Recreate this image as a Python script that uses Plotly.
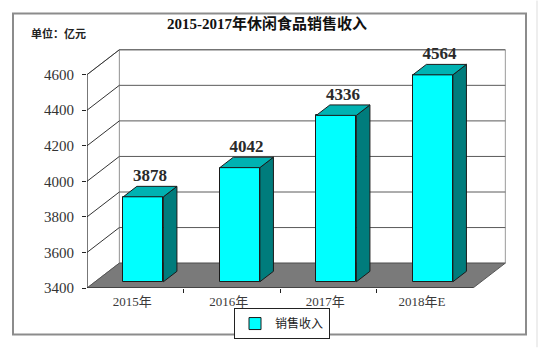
import plotly.graph_objects as go

# ---- data ----
categories = ["2015年", "2016年", "2017年", "2018年E"]
values = [3878, 4042, 4336, 4564]
y_ticks = [3400, 3600, 3800, 4000, 4200, 4400, 4600]
series_name = "销售收入"
title_text = "2015-2017年休闲食品销售收入"
unit_text = "单位：亿元"

# ---- 3D projection constants (style) ----
YMIN, YMAX = 3400, 4600
NCAT = len(categories)
DX, DY = 0.335, 140.0        # depth offset of the back wall (x units, y units)
D1, DD = 0.25, 0.42          # bar front depth, bar depth (fraction of wall depth)
BW = 0.415                   # bar width
W, H = 540, 351
ML, MR, MT, MB = 87, 33, 49, 60
PW, PH = W - ML - MR, H - MT - MB

FONT = "Liberation Serif, 'Noto Sans CJK SC', serif"

fig = go.Figure()

# front faces via bar trace
xc = [i + 0.5 + D1 * DX for i in range(NCAT)]
base = YMIN + D1 * DY
fig.add_trace(go.Bar(
    x=xc, y=[v - YMIN for v in values], base=base, width=BW,
    marker=dict(color="#00FFFF", line=dict(color="#1a1a1a", width=1)),
    name=series_name, showlegend=True, hoverinfo="skip",
))

ddx, ddy = DD * DX, DD * DY
for i, v in enumerate(values):
    xl, xr = xc[i] - BW / 2, xc[i] + BW / 2
    top = v + D1 * DY
    # side face
    fig.add_trace(go.Scatter(
        x=[xr, xr, xr + ddx, xr + ddx, xr], y=[base, top, top + ddy, base + ddy, base],
        mode="lines", fill="toself", fillcolor="#007c7c",
        line=dict(color="#1a1a1a", width=1), showlegend=False, hoverinfo="skip"))
    # top face
    fig.add_trace(go.Scatter(
        x=[xl, xr, xr + ddx, xl + ddx, xl], y=[top, top, top + ddy, top + ddy, top],
        mode="lines", fill="toself", fillcolor="#00b2b2",
        line=dict(color="#1a1a1a", width=1), showlegend=False, hoverinfo="skip"))

# value labels
fig.add_trace(go.Scatter(
    x=[c + ddx / 2 for c in xc], y=[v + D1 * DY + ddy + 5 for v in values],
    mode="text", text=[f"<b>{v}</b>" for v in values], textposition="top center",
    textfont=dict(family=FONT, size=17, color="#2a2a2a"),
    cliponaxis=False, showlegend=False, hoverinfo="skip"))

shapes = []
# back wall
shapes.append(dict(type="rect", xref="x", yref="y", x0=DX, x1=NCAT + DX,
                   y0=YMIN + DY, y1=YMAX + DY, fillcolor="white",
                   line=dict(color="#9a9a9a", width=1), layer="below"))
# left wall
shapes.append(dict(type="path", xref="x", yref="y",
                   path=f"M 0,{YMIN} L {DX},{YMIN+DY} L {DX},{YMAX+DY} L 0,{YMAX} Z",
                   fillcolor="white", line=dict(color="#9a9a9a", width=1), layer="below"))
for t in y_ticks[1:]:
    shapes.append(dict(type="line", xref="x", yref="y", x0=DX, x1=NCAT + DX,
                       y0=t + DY, y1=t + DY, line=dict(color="#5a5a5a", width=1), layer="below"))
for t in y_ticks[1:]:
    shapes.append(dict(type="line", xref="x", yref="y", x0=0, x1=DX,
                       y0=t, y1=t + DY, line=dict(color="#333333", width=1), layer="below"))
# floor
shapes.append(dict(type="path", xref="x", yref="y",
                   path=f"M 0,{YMIN} L {NCAT},{YMIN} L {NCAT+DX},{YMIN+DY} L {DX},{YMIN+DY} Z",
                   fillcolor="#7a7a7a", line=dict(color="#555555", width=1), layer="below"))
# front axis lines
shapes.append(dict(type="line", xref="x", yref="y", x0=0, x1=0, y0=YMIN, y1=YMAX,
                   line=dict(color="#222222", width=1), layer="below"))
shapes.append(dict(type="line", xref="x", yref="y", x0=0, x1=NCAT, y0=YMIN, y1=YMIN,
                   line=dict(color="#222222", width=1), layer="below"))

# outer frame (paper coords from pixel positions)
def px(xp):
    return (xp - ML) / PW
def py(yp):
    return (H - MB - yp) / PH
shapes.append(dict(type="rect", xref="paper", yref="paper",
                   x0=px(13), x1=px(526), y0=py(338), y1=py(13),
                   line=dict(color="#8c8c8c", width=2), fillcolor="rgba(0,0,0,0)"))
shapes.append(dict(type="line", xref="paper", yref="paper",
                   x0=px(537), x1=px(537), y0=py(0), y1=py(351),
                   line=dict(color="#dddddd", width=1)))

fig.update_layout(
    width=W, height=H, autosize=False,
    margin=dict(l=ML, r=MR, t=MT, b=MB),
    paper_bgcolor="white", plot_bgcolor="rgba(0,0,0,0)",
    shapes=shapes,
    showlegend=True,
    title=dict(text=f"<b>{title_text}</b>", x=267 / W, y=1 - 24 / H,
               xref="container", yref="container", xanchor="center", yanchor="middle",
               font=dict(family=FONT, size=15, color="#111111")),
    annotations=[dict(text=f"<b>{unit_text}</b>", xref="paper", yref="paper",
                      x=px(58), y=py(33), xanchor="center", yanchor="middle",
                      showarrow=False, font=dict(family=FONT, size=11, color="#222222"))],
    legend=dict(x=px(282), y=py(327), xanchor="center", yanchor="middle",
                bordercolor="#222222", borderwidth=1, bgcolor="white",
                font=dict(family=FONT, size=12, color="#222222"),
                itemwidth=30, tracegroupgap=0),
    xaxis=dict(range=[0, PW / ((473 - ML) / NCAT)], showgrid=False, zeroline=False,
               showline=False, tickmode="array",
               tickvals=[i + 0.47 for i in range(NCAT)], ticktext=categories,
               ticks="", ticklabelstandoff=4,
               tickfont=dict(family=FONT, size=13, color="#3a3a3a"),
               minor=dict(tickmode="array", tickvals=list(range(1, NCAT)),
                          ticks="outside", ticklen=4, tickcolor="#222222", showgrid=False),
               fixedrange=True),
    yaxis=dict(range=[YMIN, YMIN + PH / ((291 - 75) / (YMAX - YMIN))],
               showgrid=False, zeroline=False, showline=False,
               tickmode="array", tickvals=y_ticks, ticktext=[str(t) for t in y_ticks],
               ticks="outside", ticklen=4, tickcolor="#222222", ticklabelstandoff=5,
               tickfont=dict(family=FONT, size=15, color="#333333"),
               fixedrange=True),
    bargap=0,
)

fig.write_html("out.html")
